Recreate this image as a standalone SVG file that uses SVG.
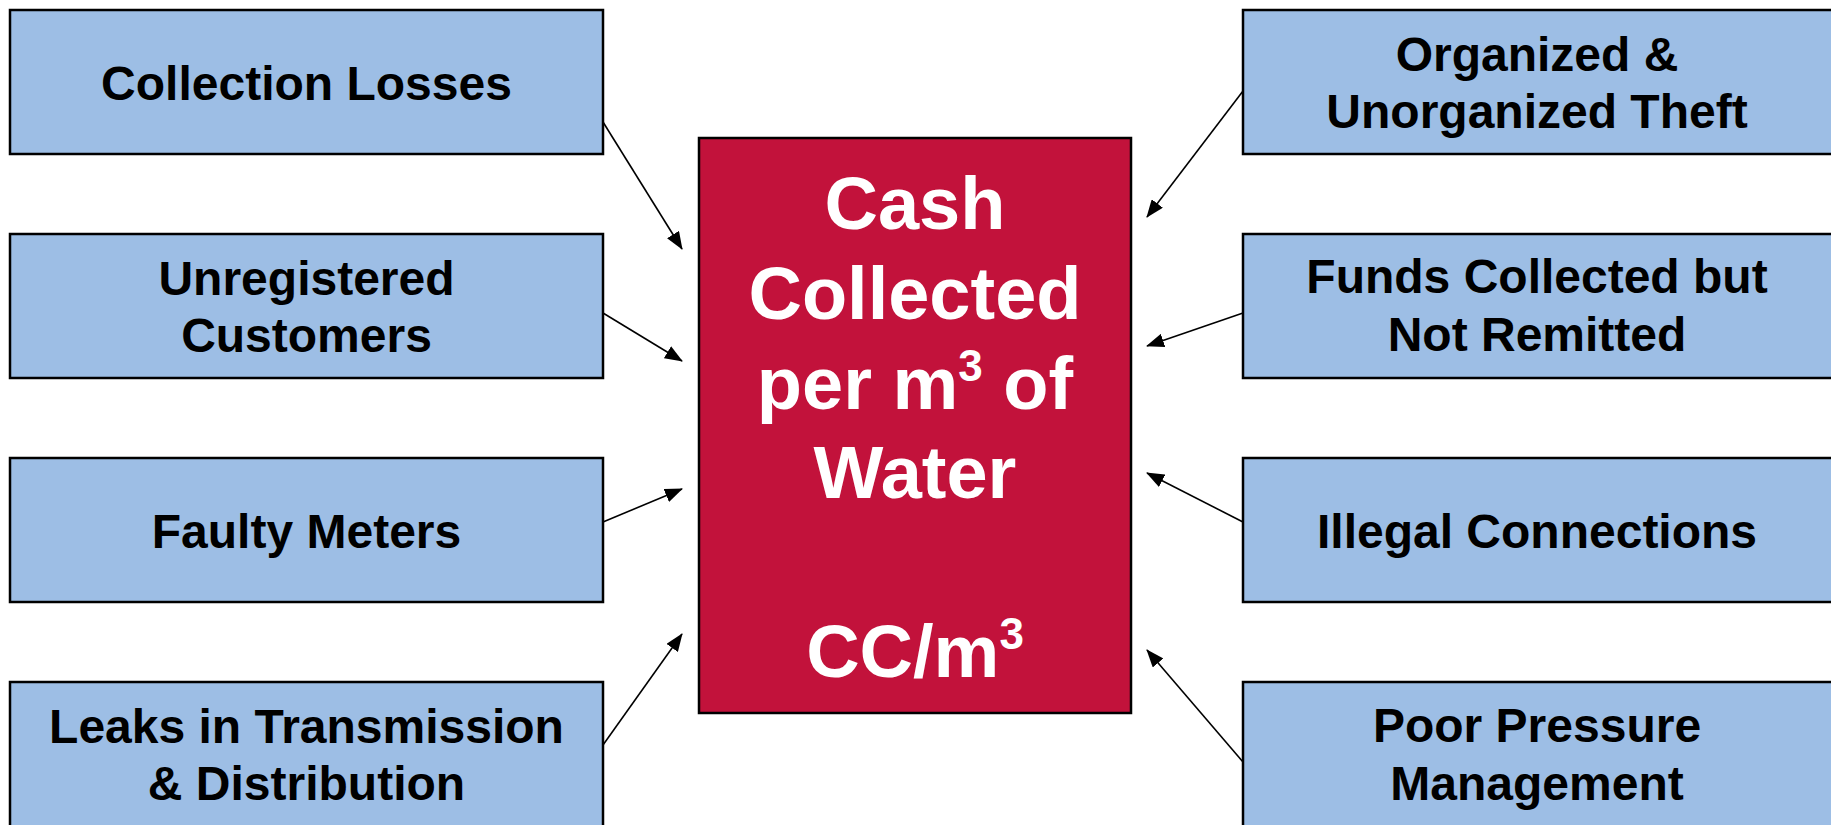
<svg xmlns="http://www.w3.org/2000/svg" width="1831" height="825" viewBox="0 0 1831 825">
<defs>
<style>
.box{fill:#9DBEE5;stroke:#000;stroke-width:2.5}
.main{fill:#C2123B;stroke:#000;stroke-width:2.5}
.lbl{font-family:"Liberation Sans",Arial,sans-serif;font-weight:bold;font-size:48px;fill:#000;text-anchor:middle}
.big{font-family:"Liberation Sans",Arial,sans-serif;font-weight:bold;font-size:74px;fill:#fff;text-anchor:middle}
.con{stroke:#000;stroke-width:1.6;fill:none;marker-end:url(#ah)}
</style>
<marker id="ah" markerUnits="userSpaceOnUse" markerWidth="18" markerHeight="14" viewBox="0 0 18 14" refX="17" refY="7" orient="auto">
<path d="M0,0 L18,7 L0,14 Z" fill="#000"/>
</marker>
</defs>
<rect width="1831" height="825" fill="#fff"/>
<g id="connectors">
<line class="con" x1="603" y1="122" x2="682" y2="249"/>
<line class="con" x1="603" y1="313" x2="682" y2="361"/>
<line class="con" x1="603" y1="522" x2="682" y2="489"/>
<line class="con" x1="603" y1="745" x2="682" y2="634"/>
<line class="con" x1="1243" y1="91" x2="1147" y2="217"/>
<line class="con" x1="1243" y1="313" x2="1147" y2="346"/>
<line class="con" x1="1243" y1="522" x2="1147" y2="473"/>
<line class="con" x1="1243" y1="762" x2="1147" y2="650"/>
</g>
<g id="center">
<rect class="main" x="699" y="138" width="432" height="575"/>
<text class="big" x="915" y="229">Cash</text>
<text class="big" x="915" y="319">Collected</text>
<text class="big" x="915" y="409">per m<tspan font-size="44" dy="-28">3</tspan><tspan dy="28"> of</tspan></text>
<text class="big" x="915" y="498">Water</text>
<text class="big" x="915" y="677">CC/m<tspan font-size="44" dy="-28">3</tspan></text>
</g>
<g id="collection-losses">
<rect class="box" x="10" y="10" width="593" height="144"/>
<text class="lbl" x="306.5" y="100">Collection Losses</text>
</g>
<g id="unregistered-customers">
<rect class="box" x="10" y="234" width="593" height="144"/>
<text class="lbl" x="306.5" y="295">Unregistered</text>
<text class="lbl" x="306.5" y="352">Customers</text>
</g>
<g id="faulty-meters">
<rect class="box" x="10" y="458" width="593" height="144"/>
<text class="lbl" x="306.5" y="548">Faulty Meters</text>
</g>
<g id="leaks">
<rect class="box" x="10" y="682" width="593" height="160"/>
<text class="lbl" x="306.5" y="743">Leaks in Transmission</text>
<text class="lbl" x="306.5" y="800">&amp; Distribution</text>
</g>
<g id="theft">
<rect class="box" x="1243" y="10" width="600" height="144"/>
<text class="lbl" x="1537" y="71">Organized &amp;</text>
<text class="lbl" x="1537" y="128">Unorganized Theft</text>
</g>
<g id="funds">
<rect class="box" x="1243" y="234" width="600" height="144"/>
<text class="lbl" x="1537" y="293">Funds Collected but</text>
<text class="lbl" x="1537" y="351">Not Remitted</text>
</g>
<g id="illegal">
<rect class="box" x="1243" y="458" width="600" height="144"/>
<text class="lbl" x="1537" y="548">Illegal Connections</text>
</g>
<g id="pressure">
<rect class="box" x="1243" y="682" width="600" height="160"/>
<text class="lbl" x="1537" y="742">Poor Pressure</text>
<text class="lbl" x="1537" y="800">Management</text>
</g>
</svg>
